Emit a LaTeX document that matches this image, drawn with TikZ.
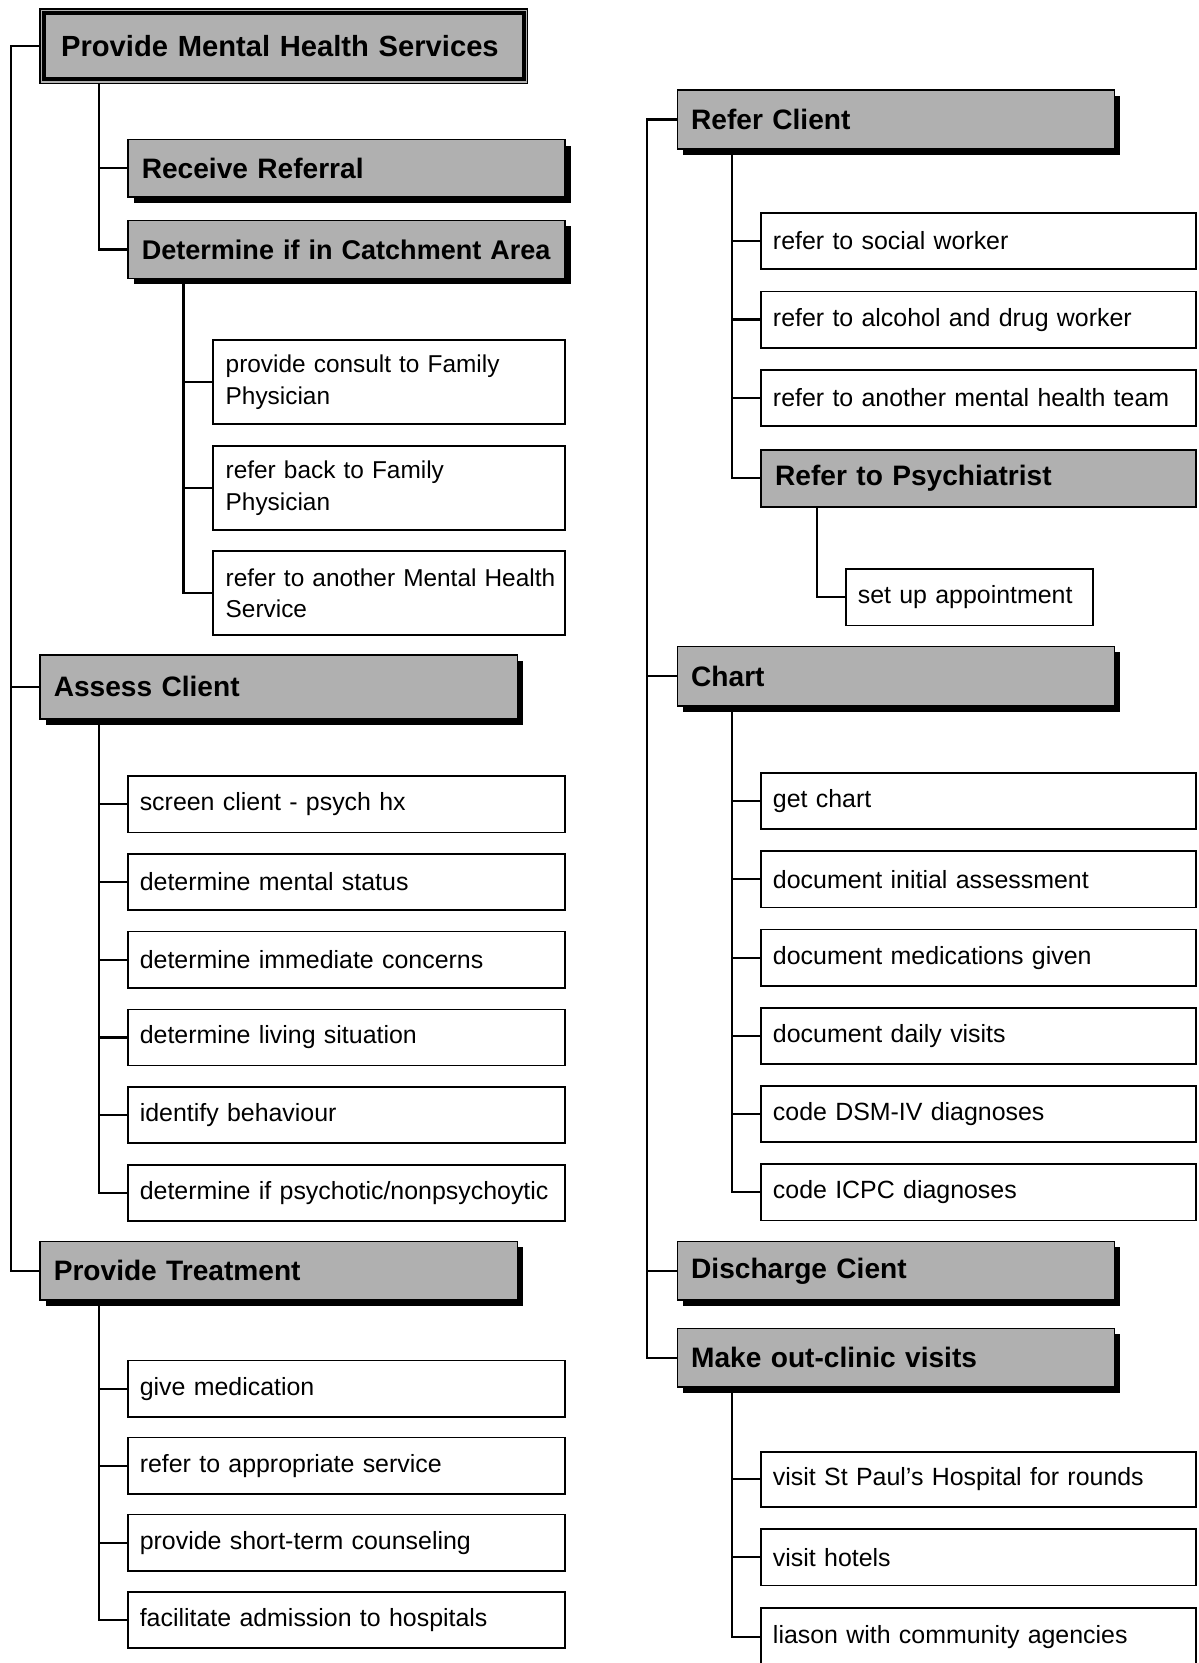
\documentclass[tikz,border=0pt]{standalone}
\usepackage{fontspec}
\setmainfont{Liberation Sans}
\usetikzlibrary{shadows}
\definecolor{shade}{gray}{0.69}
\begin{document}
\begin{tikzpicture}[x=1pt,y=-1pt,
  link/.style={line width=2pt},
  item/.style={draw, line width=1.6pt, fill=white, anchor=north west,
    inner xsep=11pt, inner ysep=0pt, minimum height=53pt, align=left,
    font=\fontsize{23.5}{30}\selectfont},
  head/.style={draw, line width=1.4pt, fill=shade, anchor=north west,
    inner xsep=13pt, inner ysep=0pt, minimum height=55pt, align=left,
    font=\fontsize{26.5}{32}\selectfont\bfseries},
  shadowed/.style={drop shadow={shadow xshift=5.5pt, shadow yshift=-5.5pt,
    fill=black, opacity=1}},
  topbox/.style={draw, line width=1.2pt, fill=shade, anchor=north west,
    inner xsep=20pt, inner ysep=0pt, minimum height=70pt, align=left,
    font=\fontsize{27.5}{32}\selectfont\bfseries},
]
\useasboundingbox (0,0) rectangle (1130,1568);
\clip (0,0) rectangle (1130,1568);

% ---------- left column ----------
\node[topbox, text width=420pt] (top) at (37,8) {\mbox{Provide Mental Health Services}};
\draw[line width=3.6pt] ([xshift=4.5pt,yshift=-4.5pt]top.north west)
  rectangle ([xshift=-4.5pt,yshift=4.5pt]top.south east);

\node[head, shadowed, text width=386pt, minimum height=54pt] (recv) at (120,131) {Receive Referral};
\node[head, shadowed, text width=386pt, font=\fontsize{25.5}{32}\selectfont\bfseries] (catch) at (120,207)
  {\mbox{Determine if in Catchment Area}};

\node[item, text width=308pt, inner xsep=12pt, minimum height=79pt,
  font=\fontsize{23}{30}\selectfont] (consult) at (200,320)
  {provide consult to Family\\Physician};
\node[item, text width=308pt, inner xsep=12pt, minimum height=79pt,
  font=\fontsize{23}{30}\selectfont] (back) at (200,420)
  {refer back to Family\\Physician};
\node[item, text width=308pt, inner xsep=12pt, minimum height=79pt,
  font=\fontsize{23}{30}\selectfont] (another) at (200,519)
  {\mbox{refer to another Mental Health}\\Service};

\node[head, shadowed, text width=424pt, minimum height=60pt] (assess) at (37,617) {Assess Client};
\node[item, text width=390pt] (a1) at (120,731) {screen client - psych hx};
\node[item, text width=390pt] (a2) at (120,804.3) {determine mental status};
\node[item, text width=390pt] (a3) at (120,877.6) {determine immediate concerns};
\node[item, text width=390pt] (a4) at (120,950.9) {determine living situation};
\node[item, text width=390pt] (a5) at (120,1024.2) {identify behaviour};
\node[item, text width=390pt] (a6) at (120,1097.5) {\mbox{determine if psychotic/nonpsychoytic}};

\node[head, shadowed, text width=424pt] (treat) at (37,1170) {Provide Treatment};
\node[item, text width=390pt] (t1) at (120,1282) {give medication};
\node[item, text width=390pt] (t2) at (120,1354.7) {refer to appropriate service};
\node[item, text width=390pt] (t3) at (120,1427.3) {provide short-term counseling};
\node[item, text width=390pt] (t4) at (120,1500) {facilitate admission to hospitals};

% ---------- right column ----------
\node[head, shadowed, text width=386pt, minimum height=56pt] (refer) at (638,84) {Refer Client};
\node[item, text width=388pt] (r1) at (717,200) {refer to social worker};
\node[item, text width=388pt] (r2) at (717,274) {refer to alcohol and drug worker};
\node[item, text width=388pt] (r3) at (717,348) {\mbox{refer to another mental health team}};
\node[head, line width=1.8pt, text width=384pt, minimum height=54pt] (psych) at (717,423) {Refer to Psychiatrist};
\node[item, text width=211pt] (appt) at (797,536) {set up appointment};

\node[head, shadowed, text width=386pt, minimum height=56pt] (chart) at (638,609) {Chart};
\node[item, text width=388pt] (c1) at (717,728) {get chart};
\node[item, text width=388pt] (c2) at (717,801.8) {document initial assessment};
\node[item, text width=388pt] (c3) at (717,875.6) {document medications given};
\node[item, text width=388pt] (c4) at (717,949.4) {document daily visits};
\node[item, text width=388pt] (c5) at (717,1023.2) {code DSM-IV diagnoses};
\node[item, text width=388pt] (c6) at (717,1097) {code ICPC diagnoses};

\node[head, shadowed, text width=386pt] (disch) at (638,1170) {Discharge Cient};
\node[head, shadowed, text width=386pt] (visits) at (638,1252) {Make out-clinic visits};
\node[item, text width=388pt, minimum height=52pt] (v1) at (717,1368) {\mbox{visit St Paul's Hospital for rounds}};
\node[item, text width=388pt] (v2) at (717,1441) {visit hotels};
\node[item, text width=388pt, minimum height=56pt] (v3) at (717,1515) {liason with community agencies};

% ---------- connectors ----------
\draw[link] (top.west) -- +(-27,0) |- (treat.west);
\draw[link] (assess.west) -- +(-27,0);

\foreach \c in {recv,catch}
  \draw[link] ([xshift=56pt]top.south west) |- (\c.west);
\foreach \c in {consult,back,another}
  \draw[link] ([xshift=53pt]catch.south west) |- (\c.west);
\foreach \c in {a1,a2,a3,a4,a5,a6}
  \draw[link] ([xshift=56pt]assess.south west) |- (\c.west);
\foreach \c in {t1,t2,t3,t4}
  \draw[link] ([xshift=56pt]treat.south west) |- (\c.west);

\draw[link] (refer.west) -- +(-28,0) |- (visits.west);
\draw[link] (chart.west) -- +(-28,0);
\draw[link] (disch.west) -- +(-28,0);
\foreach \c in {r1,r2,r3,psych}
  \draw[link] ([xshift=52pt]refer.south west) |- (\c.west);
\draw[link] ([xshift=53pt]psych.south west) |- (appt.west);
\foreach \c in {c1,c2,c3,c4,c5,c6}
  \draw[link] ([xshift=52pt]chart.south west) |- (\c.west);
\foreach \c in {v1,v2,v3}
  \draw[link] ([xshift=52pt]visits.south west) |- (\c.west);
\end{tikzpicture}
\end{document}
